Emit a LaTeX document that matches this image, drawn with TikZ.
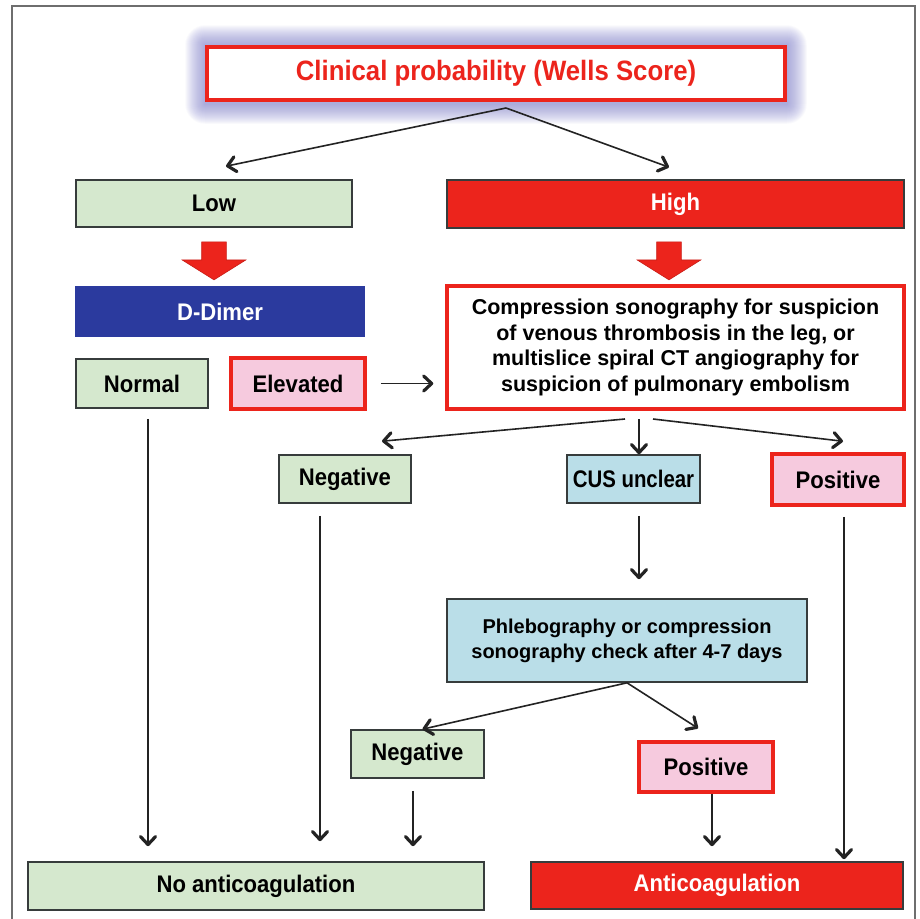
\documentclass[tikz,border=0pt]{standalone}
\usepackage{fontspec}
\setmainfont{Liberation Sans}[FakeStretch=0.92]
\newfontfamily\condfont{Liberation Sans}[FakeStretch=0.85]
\newfontfamily\plainfont{Liberation Sans}
\usepackage{tikz}
\usetikzlibrary{shapes.arrows,arrows.meta,backgrounds}

\definecolor{boxgreen}{RGB}{213,232,206}
\definecolor{boxpink}{RGB}{246,202,222}
\definecolor{boxcyan}{RGB}{186,222,232}
\definecolor{boxblue}{RGB}{43,58,158}
\definecolor{boxred}{RGB}{236,36,28}
\definecolor{boxline}{RGB}{55,60,60}
\definecolor{arrowline}{RGB}{35,35,35}
\definecolor{glowblue}{RGB}{125,125,205}
\definecolor{framegray}{RGB}{110,110,110}

\begin{document}
\begin{tikzpicture}[x=1pt,y=-1pt,
	>={Straight Barb[length=8pt,width=15pt,line width=3.2pt 0,round]},
	box/.style={rectangle, draw=boxline, line width=1.6pt, inner sep=0pt, font=\bfseries\fontsize{24}{28}\selectfont},
	greenbox/.style={box, fill=boxgreen},
	cyanbox/.style={box, fill=boxcyan},
	pinkbox/.style={box, fill=boxpink, draw=boxred, line width=3.5pt},
	redbox/.style={box, fill=boxred, text=white},
	bluebox/.style={box, fill=boxblue, draw=boxblue, text=white},
	conn/.style={->, line width=1.6pt, draw=arrowline},
	bigdown/.style={single arrow, fill=boxred, draw=boxred!85!black, line width=0.6pt, minimum height=38pt, inner xsep=0pt, inner ysep=12pt, single arrow head extend=19.5pt, single arrow tip angle=116, rotate=-90},
	]
		\useasboundingbox (0,0) rectangle (919,919);
		\draw [framegray, line width=1.3pt] (12,930) -- (12,6) -- (915,6) -- (915,930);

		\node[box, fill=white, draw=boxred, line width=3.5pt, text=boxred, minimum width=578pt, minimum height=53pt, font=\bfseries\fontsize{28}{32}\selectfont] (wells) at (496,73.5) {Clinical probability (Wells Score)};
		\node[greenbox, minimum width=276pt, minimum height=47pt] (low) at (214,203.5) {Low};
		\node[redbox, minimum width=457pt, minimum height=48pt] (high) at (675.5,204) {High};
		\node[bigdown] (lowdown) at (214,257) {};
		\node[bigdown] (highdown) at (669,257) {};
		\node[bluebox, minimum width=288pt, minimum height=49pt] (ddimer) at (220,311.5) {D-Dimer};
		\node[box, fill=white, draw=boxred, line width=3.5pt, minimum width=457pt, minimum height=123pt, align=center, font=\plainfont\bfseries\fontsize{21.5}{25.5}\selectfont] (compression) at (675.5,347.5) {Compression sonography for suspicion\\of venous thrombosis in the leg, or\\multislice spiral CT angiography for\\suspicion of pulmonary embolism};
		\node[greenbox, minimum width=132pt, minimum height=49pt] (normal) at (142,383.5) {Normal};
		\node[pinkbox, minimum width=134pt, minimum height=51pt] (elevated) at (298,383.5) {Elevated};

		\node[greenbox, minimum width=132pt, minimum height=48pt] (negative) at (345,479) {Negative};
		\node[cyanbox, minimum width=133pt, minimum height=48pt, font=\condfont\bfseries\fontsize{24}{28}\selectfont] (unclear) at (633.5,479) {CUS unclear};
		\node[pinkbox, minimum width=132pt, minimum height=51pt] (positive) at (838,479.5) {Positive};
		\node[cyanbox, minimum width=360pt, minimum height=83pt, align=center, font=\plainfont\bfseries\fontsize{20}{25}\selectfont] (phlebo) at (627,640.5) {Phlebography or compression\\sonography check after 4-7 days};
		\node[greenbox, minimum width=133pt, minimum height=48pt] (negative2) at (417.5,754) {Negative};
		\node[pinkbox, minimum width=134pt, minimum height=50pt] (positive2) at (706,767) {Positive};

		\node[greenbox, minimum width=456pt, minimum height=48pt] (noanti) at (256,886) {No anticoagulation};
		\node[redbox, minimum width=372pt, minimum height=47pt] (anti) at (717,885.5) {Anticoagulation};

		% glow round the title box
		\begin{pgfonlayer}{background}
			\fill[white] (0,0) rectangle (919,919);
			\foreach \g in {1,...,20}
				\fill[glowblue, opacity=0.045, rounded corners=\g pt] ([xshift=-\g pt,yshift=\g pt]wells.north west) rectangle ([xshift=\g pt,yshift=-\g pt-2pt]wells.south east);
		\end{pgfonlayer}

		\coordinate (wellsfork) at (506,108);
		\draw [conn] (wellsfork) -- ([xshift=12pt,yshift=13pt]low.north);
		\draw [conn] (wellsfork) -- ([xshift=-6.5pt,yshift=12pt]high.north);

		\draw [conn, shorten <=14pt, shorten >=12pt] (elevated.east) -- (elevated.east -| compression.west);

		\coordinate (fork) at (639,419);
		\draw [conn] ([xshift=-14pt]fork) -- ([xshift=37pt,yshift=13pt]negative.north);
		\draw [conn] (fork) -- (fork |- unclear.north);
		\draw [conn] ([xshift=14pt]fork) -- ([xshift=5pt,yshift=11pt]positive.north);
		\draw [conn, shorten <=12pt, shorten >=19pt] (unclear.south -| fork) -- (phlebo.north -| fork);

		\draw [conn] (phlebo.south) -- ([xshift=5pt]negative2.north);
		\draw [conn] (phlebo.south) -- ([xshift=-8pt,yshift=12pt]positive2.north);

		% long drops to the result boxes
		\draw [conn, shorten <=10pt, shorten >=15pt] ([xshift=6pt]normal.south) -- ([xshift=6pt]normal.south |- noanti.north);
		\draw [conn, shorten <=12pt, shorten >=20pt] ([xshift=-25pt]negative.south) -- ([xshift=-25pt]negative.south |- noanti.north);
		\draw [conn, shorten <=12pt, shorten >=15pt] ([xshift=-4.5pt]negative2.south) -- ([xshift=-4.5pt]negative2.south |- noanti.north);
		\draw [conn, shorten >=15pt] ([xshift=6pt]positive2.south) -- ([xshift=6pt]positive2.south |- anti.north);
		\draw [conn, shorten <=10pt, shorten >=2pt] ([xshift=6pt]positive.south) -- ([xshift=6pt]positive.south |- anti.north);
\end{tikzpicture}
\end{document}
